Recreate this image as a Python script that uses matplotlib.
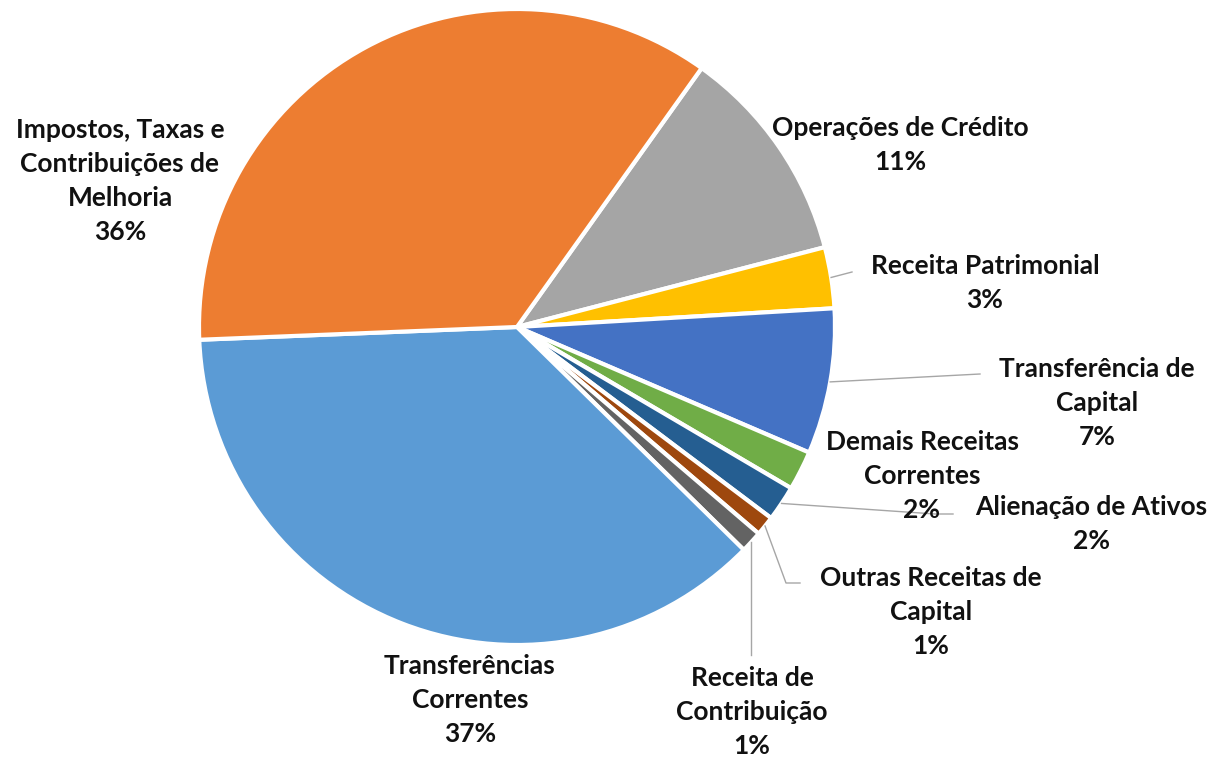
import numpy as np
import matplotlib.pyplot as plt

# slices, clockwise from the top boundary between orange and gray
labels = ['Operações de Crédito\n11%', 'Receita Patrimonial\n3%',
          'Transferência de\nCapital\n7%', 'Demais Receitas\nCorrentes\n2%',
          'Alienação de Ativos\n2%', 'Outras Receitas de\nCapital\n1%',
          'Receita de\nContribuição\n1%', 'Transferências\nCorrentes\n37%',
          'Impostos, Taxas e\nContribuições de\nMelhoria\n36%']
shares = [11.1, 3.1, 7.4, 2.0, 1.8, 1.0, 1.1, 37.0, 35.5]
colors = ['#A5A5A5', '#FFC000', '#4472C4', '#70AD47', '#255E91',
          '#9E480E', '#636363', '#5B9BD5', '#ED7D31']

# label positions in pixels (from top-left)
label_xy = [(900, 145), (985, 283), (1097, 403), (922, 476), (1091, 524),
            (931, 612), (752, 712), (470, 700), (120, 181)]

W, H = 1215, 759
fig = plt.figure(figsize=(W / 100, H / 100), dpi=100)
ax = fig.add_axes([0, 0, 1, 1])

cx, cy, r = 517, H - 327, 318
wedges, _ = ax.pie(shares, colors=colors, startangle=54.5, counterclock=False,
                   center=(cx, cy), radius=r, frame=True,
                   wedgeprops=dict(edgecolor='white', linewidth=3))
ax.set_xlim(0, W)
ax.set_ylim(0, H)
ax.axis('off')

for lab, (x, y) in zip(labels, label_xy):
    ax.text(x, H - y, lab, ha='center', va='center', fontsize=19,
            fontweight='bold', family='Lato', linespacing=1.5, color='#111111')

# leader lines: start on the wedge edge, end near the label
def edge(i):
    w = wedges[i]
    a = np.deg2rad((w.theta1 + w.theta2) / 2)
    return cx + r * np.cos(a), cy + r * np.sin(a)

leaders = {1: [(852, 272)], 2: [(980, 374)], 4: [(935, 514), (953, 514)],
           5: [(786, 583), (800, 583)], 6: [(758, 655)]}
for i, pts in leaders.items():
    x0, y0 = edge(i)
    xs = [x0] + [p[0] for p in pts]
    ys = [y0] + [H - p[1] for p in pts]
    if i == 6:
        xs[1] = x0
    ax.plot(xs, ys, color='#A6A6A6', lw=1)

fig.savefig('out.png', dpi=100)
